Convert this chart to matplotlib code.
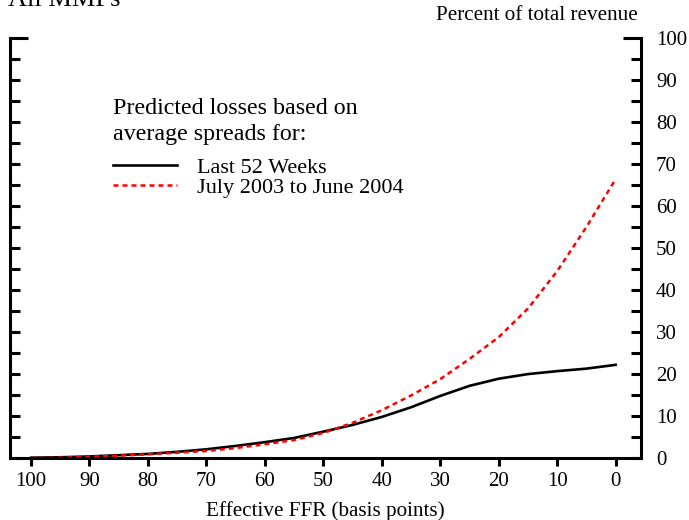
import numpy as np
import matplotlib.pyplot as plt
from matplotlib.ticker import MultipleLocator

plt.rcParams['font.family'] = ['Liberation Serif', 'DejaVu Serif']

# effective FFR in basis points (axis runs from 100 down to 0)
ffr = [100, 95, 90, 85, 80, 75, 70, 65, 60, 55, 50, 45, 40, 35, 30, 25, 20, 15, 10, 5, 0]
# predicted losses, percent of total revenue
last_52 = [0.1, 0.2, 0.4, 0.7, 1.0, 1.5, 2.1, 2.9, 3.8, 4.8, 6.3, 7.9, 9.8, 12.1, 14.8, 17.2, 18.9, 20.0, 20.7, 21.3, 22.2]
jul03_jun04 = [0.0, 0.1, 0.3, 0.6, 0.9, 1.3, 1.7, 2.4, 3.3, 4.3, 6.0, 8.4, 11.4, 14.9, 18.8, 23.6, 28.8, 35.6, 44.5, 55.0, 66.4]

series_names = ['Last 52 Weeks', 'July 2003 to June 2004']

fig = plt.figure(figsize=(6.89, 5.2), dpi=100)
ax = fig.add_axes([0.0145, 0.119, 0.9155, 0.808])

ax.plot(ffr, last_52, color='black', lw=1.9, label=series_names[0])
ax.plot(ffr, jul03_jun04, color='red', lw=1.8, linestyle=(0, (2, 1.6)), label=series_names[1])

ax.set_xlim(103.6, -4.3)
ax.set_ylim(0, 100)

ax.spines['top'].set_visible(False)
for s in ['left', 'right', 'bottom']:
    ax.spines[s].set_linewidth(2.2)

ax.xaxis.set_major_locator(MultipleLocator(10))
ax.yaxis.set_major_locator(MultipleLocator(10))
ax.yaxis.set_minor_locator(MultipleLocator(5))
ax.tick_params(axis='x', direction='out', length=6, width=2.2, labelsize=15, pad=4)
ax.tick_params(axis='y', which='both', direction='in', length=7, width=2.2,
               left=True, right=True, labelleft=False, labelright=True, labelsize=15, pad=11)

# longer cap tick at the top of both y axes
fig.canvas.draw()
for t in ax.yaxis.get_major_ticks():
    if abs(t.get_loc() - 100) < 1e-6:
        t.tick1line.set_markersize(13)
        t.tick2line.set_markersize(13)

ax.set_xlabel('Effective FFR (basis points)', fontsize=15.2, labelpad=7)

fig.text(0.012, 0.988, 'All MMFs', fontsize=19, ha='left', va='baseline')
fig.text(0.926, 0.961, 'Percent of total revenue', fontsize=15.2, ha='right', va='baseline')

ax.text(0.164, 0.757, 'Predicted losses based on\naverage spreads for:', transform=ax.transAxes,
        fontsize=17.3, ha='left', va='baseline', linespacing=1.3)
ax.legend(loc='upper left', bbox_to_anchor=(0.156, 0.727), frameon=False, fontsize=16,
          handlelength=2.9, handletextpad=0.9, labelspacing=0.0, borderpad=0.2, borderaxespad=0.0)

fig.savefig('out.png', dpi=100)
